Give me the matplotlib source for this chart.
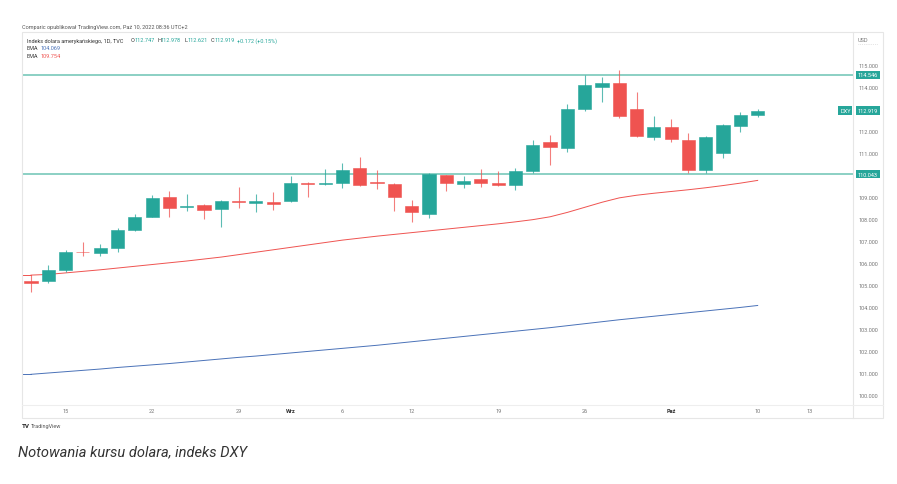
import numpy as np
import matplotlib
matplotlib.use("Agg")
import matplotlib.pyplot as plt
import matplotlib.transforms as mtransforms
from matplotlib.lines import Line2D
from matplotlib.patches import Rectangle

plt.rcParams['font.family'] = ['Roboto', 'DejaVu Sans']

GREEN = '#26a69a'
RED = '#ef5350'
LEVEL = '#6cc4b4'
GRAY = '#777777'
BORDER = '#e6e6e6'

# DXY daily bars, Aug 11 - Oct 10 2022
opens = [105.20, 105.17, 105.70, 106.52, 106.45, 106.68, 107.49, 108.10, 108.99, 108.53,
         108.65, 108.45, 108.82, 108.71, 108.77, 108.83, 109.65, 109.58, 109.62, 110.32,
         109.68, 109.59, 108.60, 108.23, 110.00, 109.60, 109.82, 109.64, 109.56, 110.17,
         111.49, 111.23, 113.00, 114.01, 114.18, 113.01, 111.71, 112.17, 111.59, 110.23,
         111.00, 112.24, 112.747]
highs = [105.45, 105.90, 106.59, 106.97, 106.86, 107.58, 108.21, 109.09, 109.26, 109.14,
         108.68, 108.86, 109.47, 109.14, 109.21, 109.97, 109.66, 110.27, 110.55, 110.80,
         110.24, 109.62, 108.86, 110.10, 110.02, 109.94, 110.27, 110.17, 110.30, 111.59,
         111.82, 113.23, 114.55, 114.44, 114.77, 113.79, 112.67, 112.55, 111.91, 111.78,
         112.32, 112.88, 112.978]
lows = [104.68, 105.09, 105.59, 106.33, 106.33, 106.51, 107.45, 108.09, 108.10, 108.35,
        108.00, 107.62, 108.49, 108.30, 108.41, 108.79, 108.99, 109.56, 109.40, 109.52,
        109.36, 108.38, 107.85, 108.03, 109.29, 109.41, 109.47, 109.51, 109.33, 110.09,
        110.45, 111.06, 112.92, 113.33, 112.58, 111.74, 111.59, 111.49, 110.09, 110.09,
        110.77, 111.94, 112.621]
closes = [105.09, 105.68, 106.49, 106.48, 106.67, 107.49, 108.08, 108.94, 108.49, 108.60,
          108.41, 108.83, 108.76, 108.80, 108.67, 109.64, 109.61, 109.62, 110.23, 109.55,
          109.65, 108.99, 108.33, 110.05, 109.64, 109.73, 109.65, 109.56, 110.20, 111.36,
          111.26, 113.00, 114.09, 114.18, 112.70, 111.76, 112.17, 111.64, 110.23, 111.74,
          112.27, 112.74, 112.919]

ema_red = [105.45, 105.48, 105.55, 105.62, 105.69, 105.77, 105.85, 105.93, 106.01, 106.09,
           106.18, 106.27, 106.38, 106.49, 106.60, 106.71, 106.82, 106.93, 107.04, 107.13,
           107.22, 107.30, 107.38, 107.46, 107.54, 107.62, 107.70, 107.78, 107.87, 107.97,
           108.10, 108.30, 108.53, 108.76, 108.96, 109.08, 109.17, 109.25, 109.33, 109.42,
           109.52, 109.63, 109.754]
ema_blue = [100.94, 101.00, 101.06, 101.12, 101.18, 101.25, 101.31, 101.37, 101.43, 101.50,
            101.57, 101.64, 101.71, 101.77, 101.84, 101.91, 101.98, 102.05, 102.12, 102.19,
            102.26, 102.34, 102.42, 102.50, 102.58, 102.66, 102.74, 102.82, 102.90, 102.98,
            103.06, 103.15, 103.24, 103.33, 103.42, 103.50, 103.58, 103.66, 103.74, 103.82,
            103.90, 103.98, 104.069]

levels = [114.546, 110.043]
last_price = 112.919

time_ticks = [2, 7, 12, 15, 18, 22, 27, 32, 37, 42, 45]
time_labels = ['15', '22', '29', 'Wrz', '6', '12', '19', '26', 'Paź', '10', '13']
month_labels = ['Wrz', 'Paź']
price_ticks = [100, 101, 102, 103, 104, 105, 106, 107, 108, 109, 111, 112, 114, 115]

W, H = 897, 485


def fx(px):
    return px / W


def fy(py):
    return 1 - py / H


fig = plt.figure(figsize=(W / 100, H / 100), dpi=100)
fig.patch.set_facecolor('white')

ax = fig.add_axes([fx(22), fy(406), fx(853) - fx(22), fy(33) - fy(406)])
ax.set_facecolor('white')
for s in ax.spines.values():
    s.set_visible(False)

x = np.arange(len(opens))
o = np.array(opens)
c = np.array(closes)
up = c >= o
colors = np.where(up, GREEN, RED)

ax.vlines(x, lows, highs, colors=colors, linewidth=0.8, alpha=0.75, zorder=2)
body_bottom = np.minimum(o, c)
body_height = np.maximum(np.abs(c - o), 0.04)
ax.bar(x, body_height, bottom=body_bottom, width=0.76, color=colors,
       edgecolor=colors, linewidth=0.4, zorder=3)

ax.plot(x, ema_red, color=RED, linewidth=0.7, zorder=1)
ax.plot(x, ema_blue, color='#4a72b8', linewidth=0.7, zorder=1)
ax.plot([-0.55, 0], [ema_red[0], ema_red[0]], color=RED, linewidth=0.7, zorder=1)
ax.plot([-0.55, 0], [ema_blue[0], ema_blue[0]], color='#4a72b8', linewidth=0.7, zorder=1)

for lv in levels:
    ax.axhline(lv, color=LEVEL, linewidth=1.1, zorder=1.5)

ax.set_xlim(-0.52, 47.51)
ax.set_ylim(99.545, 116.5)

ax.yaxis.tick_right()
ax.set_yticks(price_ticks)
ax.set_yticklabels([f'{v:.3f}' for v in price_ticks])
ax.tick_params(axis='y', length=0, pad=4, labelsize=4, labelcolor=GRAY)
ax.set_xticks(time_ticks)
ax.set_xticklabels(time_labels)
ax.tick_params(axis='x', length=0, pad=2.2, labelsize=4, labelcolor=GRAY)
for lab in ax.get_xticklabels():
    if lab.get_text() in month_labels:
        lab.set_color('#333333')
        lab.set_fontweight('bold')

# price labels on the axis
trans = mtransforms.blended_transform_factory(ax.transAxes, ax.transData)
for lv in levels + [last_price]:
    ax.text(1.006, lv, f'{lv:.3f}', transform=trans, ha='left', va='center',
            fontsize=4, color='white', clip_on=False, zorder=5,
            bbox=dict(boxstyle='square,pad=0.35', fc=GREEN, ec='none'))
ax.text(0.997, last_price, 'DXY', transform=trans, ha='right', va='center',
        fontsize=4, color='white', clip_on=False, zorder=5,
        bbox=dict(boxstyle='square,pad=0.35', fc=GREEN, ec='none'))

# chart frame and separators
fig.add_artist(Rectangle((fx(22), fy(419)), fx(883) - fx(22), fy(33) - fy(419),
                         transform=fig.transFigure, fill=False, ec=BORDER, lw=0.8))
fig.add_artist(Line2D([fx(853), fx(853)], [fy(419), fy(33)], color=BORDER, lw=0.8))
fig.add_artist(Line2D([fx(22), fx(883)], [fy(406), fy(406)], color='#eeeeee', lw=0.8))

# header texts
fig.text(fx(22), fy(28), 'Comparic opublikował TradingView.com, Paź 10, 2022 08:36 UTC+2',
         fontsize=4, color='#555555', va='center')
fig.text(fx(26.5), fy(41), 'Indeks dolara amerykańskiego, 1D, TVC', fontsize=4,
         color='#333333', va='center')
ohlc = [(131, 'O', '112.747'), (157, 'H', '112.978'), (184, 'L', '112.621'), (211, 'C', '112.919')]
for px, key, val in ohlc:
    fig.text(fx(px), fy(41), key, fontsize=4, color='#333333', va='center')
    fig.text(fx(px + 3.2), fy(41), val, fontsize=4, color=GREEN, va='center')
fig.text(fx(237), fy(41), '+0.172 (+0.15%)', fontsize=4, color=GREEN, va='center')
fig.text(fx(26.5), fy(48.7), 'EMA', fontsize=4, color='#333333', va='center')
fig.text(fx(40.5), fy(48.7), '104.069', fontsize=4, color='#4a72b8', va='center')
fig.text(fx(26.5), fy(56.3), 'EMA', fontsize=4, color='#333333', va='center')
fig.text(fx(40.5), fy(56.3), '109.754', fontsize=4, color=RED, va='center')
fig.text(fx(858), fy(40), 'USD', fontsize=4, color=GRAY, va='center')
fig.add_artist(Line2D([fx(858), fx(878)], [fy(45), fy(45)], color='#cccccc', lw=0.5, ls=':'))

# logo and caption
fig.text(fx(22), fy(427), 'TV', fontsize=4.5, color='#222222', fontweight='bold', va='center')
fig.text(fx(31), fy(427), 'TradingView', fontsize=4, color='#555555', va='center')
fig.text(fx(18), fy(452), 'Notowania kursu dolara, indeks DXY', fontsize=10.5,
         style='italic', color='#333333', va='center')

fig.savefig('out.png', dpi=100, facecolor='white')
